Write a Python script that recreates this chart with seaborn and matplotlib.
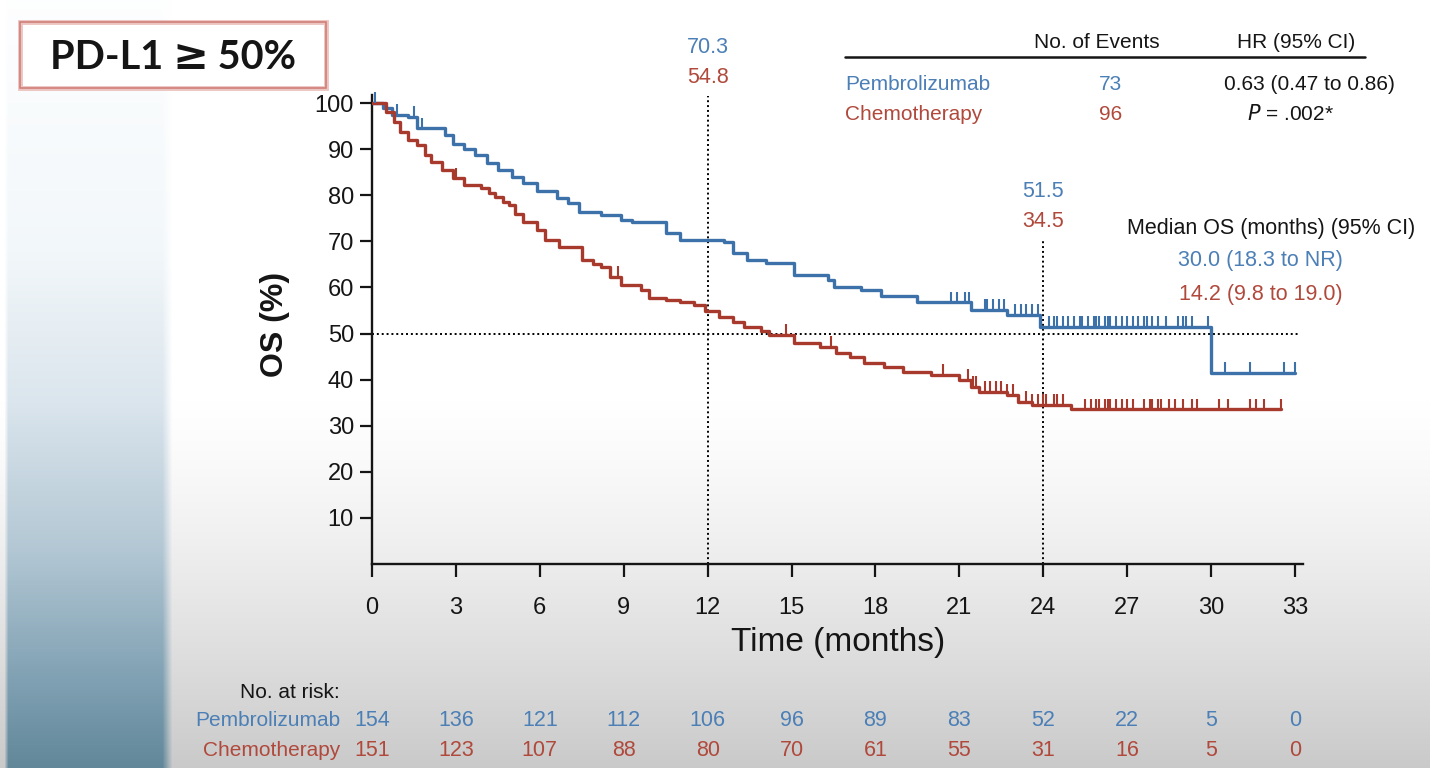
import numpy as np
import matplotlib.pyplot as plt
import seaborn as sns
from matplotlib.patches import Rectangle
from matplotlib import transforms

# Kaplan-Meier steps (month, OS %)
pembro_t = [0, 0.4, 0.7, 1.3, 1.6, 2.6, 2.9, 3.3, 3.7, 4.1, 4.5, 5.0, 5.4, 5.9, 6.6, 7.0,
            7.4, 8.2, 8.9, 9.3, 10.5, 11.0, 12.6, 12.9, 13.4, 14.1, 15.1, 16.3, 16.5, 17.5,
            18.2, 19.5, 21.4, 22.7, 23.9, 30.0, 33.0]
pembro_s = [100, 99, 97.5, 97, 94.5, 93, 91, 90, 88.7, 87, 85.5, 84, 82.6, 81, 79.5, 78.3,
            76.4, 75.7, 74.6, 74.2, 71.8, 70.3, 69.8, 67.4, 65.9, 65.3, 62.7, 61.6, 60.1, 59.4,
            58.2, 56.8, 55.1, 54.0, 51.5, 41.5, 41.5]
chemo_t = [0, 0.5, 0.8, 1.0, 1.3, 1.6, 1.9, 2.1, 2.5, 2.9, 3.3, 3.9, 4.2, 4.4, 4.7, 4.9,
           5.1, 5.4, 5.9, 6.2, 6.7, 7.5, 7.9, 8.2, 8.5, 8.9, 9.6, 9.9, 10.5, 11.0, 11.5, 11.9,
           12.4, 12.9, 13.3, 13.9, 14.2, 15.1, 16.0, 16.6, 17.1, 17.6, 18.3, 19.0, 20.0, 21.0,
           21.4, 21.7, 22.7, 23.1, 23.6, 25.0, 32.5]
chemo_s = [100, 98, 95.9, 93.7, 92, 90.9, 88.7, 87.2, 85.5, 83.7, 82.2, 81.6, 80.5, 79.6, 78.5, 77.9,
           76, 74.2, 72.4, 70.3, 68.8, 65.9, 65, 64.4, 62.3, 60.5, 59.4, 57.7, 57.2, 56.8, 56.2, 54.8,
           53.6, 52.5, 51.4, 50.6, 49.7, 47.9, 47.1, 45.8, 44.9, 43.6, 42.7, 41.6, 41.0, 39.9,
           38.4, 37.3, 36.7, 35.2, 34.5, 33.6, 33.6]

# censoring marks (months)
pembro_censor = [0.1, 0.9, 1.5, 1.8, 20.7, 20.9, 21.2, 21.35, 21.9, 22.0, 22.2, 22.4, 22.6, 23.0,
                 23.2, 23.4, 23.6, 23.8, 24.2, 24.4, 24.5, 24.7, 24.9, 25.1, 25.3, 25.4, 25.6,
                 25.8, 25.9, 26.0, 26.2, 26.3, 26.4, 26.6, 26.8, 27.0, 27.2, 27.4, 27.6, 27.7,
                 27.9, 28.1, 28.4, 28.8, 29.0, 29.1, 29.3, 29.9, 30.5, 31.4, 32.6, 33.0]
chemo_censor = [3.0, 8.8, 14.8, 16.4, 20.4, 21.3, 21.5, 21.6, 21.9, 22.1, 22.3, 22.5, 22.7, 22.9,
                23.4, 23.6, 23.8, 24.0, 24.1, 24.4, 24.5, 24.7, 25.5, 25.7, 25.9, 26.0, 26.2,
                26.3, 26.4, 26.6, 26.8, 27.0, 27.2, 27.6, 27.8, 27.9, 28.1, 28.2, 28.5, 28.7,
                29.0, 29.3, 29.5, 30.3, 30.6, 31.4, 31.6, 31.9, 32.5]

risk_times = [0, 3, 6, 9, 12, 15, 18, 21, 24, 27, 30, 33]
pembro_risk = [154, 136, 121, 112, 106, 96, 89, 83, 52, 22, 5, 0]
chemo_risk = [151, 123, 107, 88, 80, 70, 61, 55, 31, 16, 5, 0]

landmark_months = [12, 24]
pembro_landmark = [70.3, 51.5]
chemo_landmark = [54.8, 34.5]

arms = ["Pembrolizumab", "Chemotherapy"]
events = [73, 96]
hr_text = "0.63 (0.47 to 0.86)"
p_text = r"$\it{P}$ = .002*"
median_text = ["30.0 (18.3 to NR)", "14.2 (9.8 to 19.0)"]
badge_parts = ["PD-L1 ", "≥", " 50%"]

BLUE = "#3c71a9"
RED = "#a83a2d"
BLUE_T = "#4b7fb6"
RED_T = "#b0493c"
INK = "#151515"

sns.set_theme(style="ticks")
plt.rcParams['font.family'] = ['Liberation Sans', 'DejaVu Sans']

W, H = 1430, 768
fig = plt.figure(figsize=(W / 100, H / 100), dpi=100)


def px(x, y):
    return x / W, 1 - y / H


# --- background (slide gradient) ---
rows = np.arange(H)
yy = rows[:, None]
xx = np.arange(W)[None, :]
gray = np.where(yy > 400, 1 - 0.21 * np.clip((yy - 400) / 368, 0, 1) ** 1.3, 1.0)
bg = np.repeat(gray[..., None], 3, axis=2) * np.ones((H, W, 3))
stops_y = [0, 250, 400, 550, 680, 768]
side = np.stack([np.interp(rows, stops_y, [0.995, 0.95, 0.86, 0.70, 0.50, 0.38]),
                 np.interp(rows, stops_y, [0.997, 0.97, 0.90, 0.78, 0.63, 0.53]),
                 np.interp(rows, stops_y, [1.00, 0.98, 0.93, 0.83, 0.70, 0.60])], axis=1)
mask = np.clip((172 - xx) / 10, 0, 1) * np.clip((xx - 4) / 4, 0, 1)
mask = np.repeat(mask, H, axis=0)[..., None]
bg = bg * (1 - mask) + side[:, None, :] * mask
bax = fig.add_axes([0, 0, 1, 1], zorder=-10)
bax.imshow(bg, aspect='auto', extent=(0, 1, 0, 1))
bax.axis('off')

# --- main KM axes ---
ax = fig.add_axes([372 / W, 204 / H, 33.3 * 27.97 / W, 106 * 4.61 / H])
ax.patch.set_alpha(0)

for t, s, c in [(pembro_t, pembro_s, BLUE), (chemo_t, chemo_s, RED)]:
    sns.lineplot(x=t, y=s, ax=ax, color=c, linewidth=2.4, drawstyle='steps-post',
                 estimator=None, sort=False, legend=False, zorder=3)

for t, s, cen, c in [(pembro_t, pembro_s, pembro_censor, BLUE),
                     (chemo_t, chemo_s, chemo_censor, RED)]:
    idx = np.searchsorted(np.array(t), np.array(cen), side='right') - 1
    lvl = np.array(s)[idx]
    ax.vlines(cen, lvl, lvl + 2.3, color=c, linewidth=1.5, zorder=3)

dot = (0, (1, 1.5))
ax.plot([0, 33.1], [50, 50], color='black', lw=1.4, ls=dot, zorder=2)
ax.plot([12, 12], [0, 101.5], color='black', lw=1.4, ls=dot, zorder=2, clip_on=False)
ax.plot([24, 24], [0, 70.3], color='black', lw=1.4, ls=dot, zorder=2)

# landmark labels
lab_y = {12: (112.1, 105.6), 24: (80.7, 74.2)}
for m, pb, ch in zip(landmark_months, pembro_landmark, chemo_landmark):
    yb, yc = lab_y[m]
    ax.text(m, yb, f"{pb}", color=BLUE_T, fontsize=15.5, ha='center', va='center')
    ax.text(m, yc, f"{ch}", color=RED_T, fontsize=15.5, ha='center', va='center')

# median OS block
ax.text(37.3, 72.7, "Median OS (months) (95% CI)", color=INK, fontsize=15.5,
        ha='right', va='center')
ax.text(34.7, 65.9, median_text[0], color=BLUE_T, fontsize=15.5, ha='right', va='center')
ax.text(34.7, 58.4, median_text[1], color=RED_T, fontsize=15.5, ha='right', va='center')

ax.set_xlim(0, 33.3)
ax.set_ylim(0, 106)
ax.set_xticks(risk_times)
ax.set_yticks(range(10, 101, 10))
ax.spines[['top', 'right']].set_visible(False)
ax.spines['left'].set_bounds(0, 101.7)
for sp in ['left', 'bottom']:
    ax.spines[sp].set_linewidth(1.7)
    ax.spines[sp].set_color(INK)
ax.tick_params(axis='both', direction='out', length=9, width=1.6, colors=INK,
               labelsize=17)
ax.tick_params(axis='x', pad=15)
ax.tick_params(axis='y', pad=4)

ax.set_xlabel("Time (months)", fontsize=24, color=INK)
ax.xaxis.set_label_coords(0.5, -0.128)
ax.xaxis.label.set_va('top')
ax.set_ylabel("OS (%)", fontsize=23, fontweight='bold', color=INK)
ax.yaxis.set_label_coords(-0.104, 0.49)
ax.yaxis.label.set_va('center')

# --- number at risk ---
tr = transforms.blended_transform_factory(ax.transData, fig.transFigure)
fig.text(*px(340, 692), "No. at risk:", fontsize=15, ha='right', va='center', color=INK)
for (lbl, vals, col, y) in [(arms[0], pembro_risk, BLUE_T, 721), (arms[1], chemo_risk, RED_T, 751)]:
    fig.text(*px(340, y), lbl, fontsize=15, ha='right', va='center', color=col)
    for t, v in zip(risk_times, vals):
        ax.text(t, 1 - y / H, str(v), transform=tr, fontsize=15.5, ha='center', va='center',
                color=col)

# --- events / HR table ---
fig.text(*px(1097, 42), "No. of Events", fontsize=15, ha='center', va='center', color=INK)
fig.text(*px(1296, 42), "HR (95% CI)", fontsize=15, ha='center', va='center', color=INK)
fig.add_artist(plt.Line2D([845 / W, 1365 / W], [1 - 57 / H, 1 - 57 / H], color=INK, lw=1.8))
for lbl, ev, col, y in [(arms[0], events[0], BLUE_T, 85), (arms[1], events[1], RED_T, 114)]:
    fig.text(*px(845, y), lbl, fontsize=15, ha='left', va='center', color=col)
    fig.text(*px(1111, y), str(ev), fontsize=15, ha='center', va='center', color=col)
fig.text(*px(1309, 85), hr_text, fontsize=15, ha='center', va='center', color=INK)
fig.text(*px(1290, 114), p_text, fontsize=15, ha='center', va='center', color=INK)

# --- subgroup badge ---
fig.add_artist(Rectangle(px(20, 88), 306 / W, 66 / H, transform=fig.transFigure,
                         facecolor='white', edgecolor='#ecc4c0', lw=3.5))
fig.add_artist(Rectangle(px(20, 88), 306 / W, 66 / H, transform=fig.transFigure,
                         facecolor='none', edgecolor='#cf7a74', lw=1.1))
renderer = fig.canvas.get_renderer()
fams = [['Lato', 'DejaVu Sans'], ['DejaVu Sans'], ['Lato', 'DejaVu Sans']]
sizes = [28.5, 31, 28.5]
pieces = []
for part, fam, sz in zip(badge_parts, fams, sizes):
    pieces.append(fig.text(0, 1 - 69 / H, part, fontsize=sz, fontweight='bold', ha='left',
                           va='baseline', color=INK, family=fam))
widths = [p.get_window_extent(renderer).width for p in pieces]
x0 = 173 - sum(widths) / 2
for p, w in zip(pieces, widths):
    p.set_x(x0 / W)
    x0 += w

fig.savefig('out.png', dpi=100)
